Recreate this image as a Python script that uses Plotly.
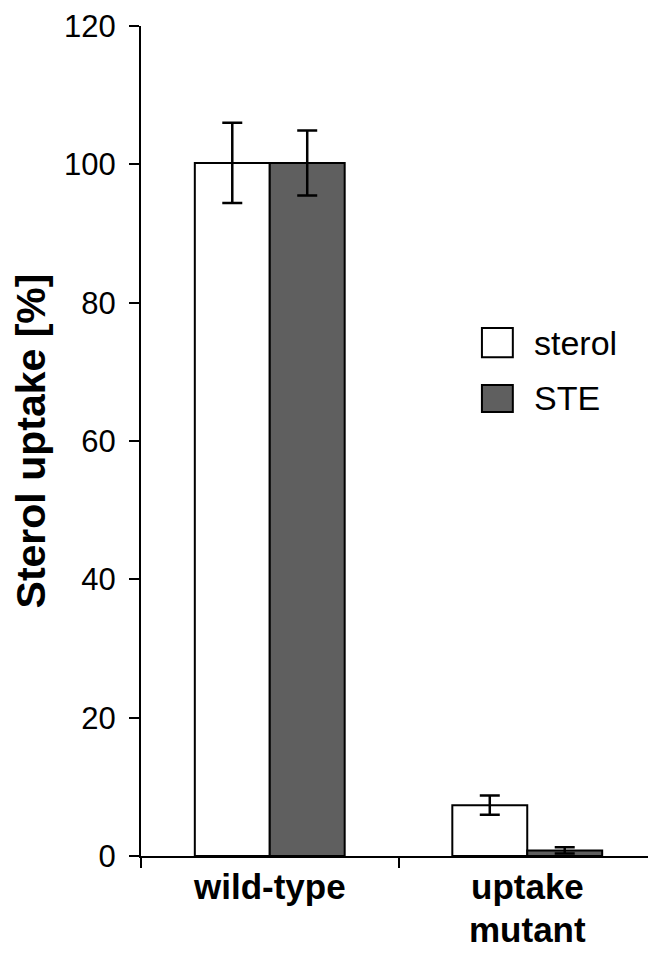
import plotly.graph_objects as go

categories = ["wild-type", "uptake mutant"]
sterol_values = [100.2, 7.35]
sterol_errors = [5.8, 1.4]
ste_values = [100.2, 0.8]
ste_errors = [4.7, 0.45]
y_ticks = [0, 20, 40, 60, 80, 100, 120]
legend_labels = ["sterol", "STE"]
x_label_lines = [["wild-type"], ["uptake", "mutant"]]

FONT = "Liberation Sans, Arial, sans-serif"
STE_COLOR = "#5f5f5f"

fig = go.Figure()
fig.add_trace(go.Bar(
    x=categories, y=sterol_values, name=legend_labels[0], showlegend=False,
    marker=dict(color="white", line=dict(color="black", width=2)),
    error_y=dict(type="data", array=sterol_errors, color="black", thickness=2.5, width=10),
))
fig.add_trace(go.Bar(
    x=categories, y=ste_values, name=legend_labels[1], showlegend=False,
    marker=dict(color=STE_COLOR, line=dict(color="black", width=2)),
    error_y=dict(type="data", array=ste_errors, color="black", thickness=2.5, width=10),
))

# manual legend (large boxes)
legend_items = [(legend_labels[0], "white", 0.636, 0.601, 0.618),
                (legend_labels[1], STE_COLOR, 0.5675, 0.535, 0.552)]
for label, col, y1, y0, yt in legend_items:
    fig.add_shape(type="rect", xref="paper", yref="paper",
                  x0=0.662, x1=0.722, y0=y0, y1=y1,
                  fillcolor=col, line=dict(color="black", width=2))
    fig.add_annotation(text=label, xref="paper", yref="paper", x=0.759, y=yt,
                       xanchor="left", yanchor="middle", showarrow=False,
                       font=dict(family=FONT, size=34, color="black"))

# category labels (bold, tight line spacing)
line_y = [-0.037, -0.088]
for cat, lines in zip(categories, x_label_lines):
    for i, txt in enumerate(lines):
        fig.add_annotation(text="<b>" + txt + "</b>", xref="x", yref="paper",
                           x=cat, y=line_y[i], xanchor="center", yanchor="middle",
                           showarrow=False,
                           font=dict(family=FONT, size=35, color="black"))

fig.update_layout(
    width=648, height=945,
    margin=dict(l=133, r=0, t=18, b=97),
    paper_bgcolor="white", plot_bgcolor="white",
    barmode="group", bargap=0.418, bargroupgap=0,
    font=dict(family=FONT, color="black"),
    showlegend=False,
)
fig.update_yaxes(
    range=[0, 120], tickvals=y_ticks, ticktext=[str(v) for v in y_ticks],
    automargin=False, ticklabeloverflow="allow",
    showgrid=False, zeroline=False,
    showline=True, linecolor="black", linewidth=2,
    ticks="outside", ticklen=10, tickwidth=2, tickcolor="black",
    tickfont=dict(family=FONT, size=31, color="black"),
    ticklabelstandoff=7,
    title=dict(text="<b>Sterol uptake [%]</b>", standoff=16,
               font=dict(family=FONT, size=41, color="black")),
)
fig.update_xaxes(
    type="category", tickson="boundaries", automargin=False,
    showgrid=False, zeroline=False,
    showline=True, linecolor="black", linewidth=2,
    ticks="outside", ticklen=10, tickwidth=2, tickcolor="black",
    showticklabels=False,
)

fig.write_html("out.html")
